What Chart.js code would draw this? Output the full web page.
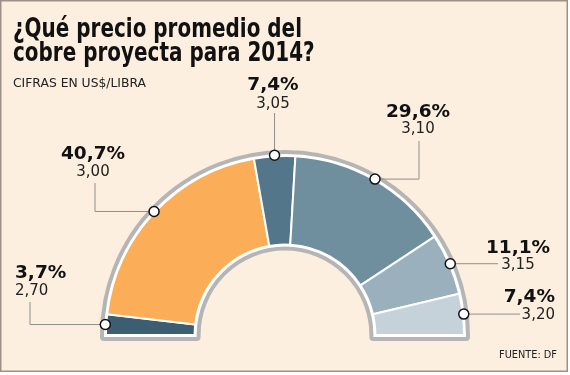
<!DOCTYPE html>
<html lang="es">

<head>
    <meta charset="UTF-8">
    <title>Precio del cobre 2014</title>
    <style>
        html, body {
            margin: 0;
            padding: 0;
            background: #ffffff;
            overflow: hidden;
        }
    </style>
    <script src="https://cdn.jsdelivr.net/npm/chart.js@4/dist/chart.umd.min.js"></script>
</head>

<body>
    <canvas id="myChart" width="570" height="375"></canvas>
    <script>
        // data
        const prices = ["2,70", "3,00", "3,05", "3,10", "3,15", "3,20"];
        const shares = [3.7, 40.7, 7.4, 29.6, 11.1, 7.4];
        const sliceColors = ["#3c5e70", "#fbae57", "#54768a", "#6f8e9e", "#9bb0bd", "#c5d2da"];

        const titleLines = ["¿Qué precio promedio del", "cobre proyecta para 2014?"];
        const subtitle = "CIFRAS EN US$/LIBRA";
        const source = "FUENTE: DF";

        // where each callout sits (text anchor + elbow of the leader line)
        const calloutLayout = [
            { x: 15, align: "left", pctY: 278, valY: 295, elbowX: 30, endY: 302 },
            { x: 93, align: "center", pctY: 159, valY: 176, elbowX: 95, endY: 183 },
            { x: 273, align: "center", pctY: 90, valY: 108, elbowX: null, endY: 113 },
            { x: 418, align: "center", pctY: 117, valY: 133, elbowX: 419, endY: 141 },
            { x: 518, align: "center", pctY: 253, valY: 269, elbowX: 498, endY: null },
            { x: 555, align: "right", pctY: 302, valY: 319, elbowX: 520, endY: null }
        ];

        const bgColor = "#fcefdf";
        const ringGray = "#b5b5b5";

        function fmtPct(v) {
            return v.toFixed(1).replace(".", ",") + "%";
        }

        // squeeze text horizontally to a given width (the original uses a condensed face)
        function fitText(ctx, text, x, y, width, scale) {
            const w = ctx.measureText(text).width;
            const s = scale || width / w;
            ctx.save();
            ctx.translate(x, y);
            ctx.scale(s, 1);
            ctx.fillText(text, 0, 0);
            ctx.restore();
            return s;
        }

        const frame = {
            id: "frame",
            beforeDraw(chart) {
                const ctx = chart.ctx;
                ctx.save();
                ctx.fillStyle = bgColor;
                ctx.fillRect(0, 0, 568, 372);
                ctx.strokeStyle = "#9c9189";
                ctx.lineWidth = 1.5;
                ctx.strokeRect(0.75, 0.75, 566.5, 370.5);

                ctx.fillStyle = "#111111";
                ctx.textAlign = "left";
                ctx.textBaseline = "alphabetic";
                ctx.font = "bold 27px 'DejaVu Sans'";
                const s = fitText(ctx, titleLines[0], 13, 37, 289);
                fitText(ctx, titleLines[1], 13, 61, 0, s);

                ctx.fillStyle = "#222222";
                ctx.font = "13px 'DejaVu Sans'";
                fitText(ctx, subtitle, 13, 87, 133);

                ctx.font = "11px 'DejaVu Sans'";
                const sw = ctx.measureText(source).width;
                fitText(ctx, source, 557 - 58, 358, 58);
                ctx.restore();
            }
        };

        // gray outline around the half ring
        const ringOutline = {
            id: "ringOutline",
            beforeDatasetsDraw(chart) {
                const arc = chart.getDatasetMeta(0).data[0];
                if (!arc) return;
                const { x, y, outerRadius, innerRadius } = arc.getProps(["x", "y", "outerRadius", "innerRadius"], true);
                const R = outerRadius + 2;
                const r = innerRadius - 2;
                const ctx = chart.ctx;
                ctx.save();
                ctx.beginPath();
                ctx.moveTo(x - R, y + 2);
                ctx.lineTo(x - R, y);
                ctx.arc(x, y, R, Math.PI, 2 * Math.PI);
                ctx.lineTo(x + R, y + 2);
                ctx.lineTo(x + r, y + 2);
                ctx.lineTo(x + r, y);
                ctx.arc(x, y, r, 0, Math.PI, true);
                ctx.lineTo(x - r, y + 2);
                ctx.closePath();
                ctx.lineJoin = "round";
                ctx.strokeStyle = ringGray;
                ctx.lineWidth = 8;
                ctx.stroke();
                ctx.fillStyle = "#ffffff";
                ctx.fill();
                ctx.restore();
            }
        };

        // leader lines, dots and the two-line labels
        const callouts = {
            id: "callouts",
            afterDatasetsDraw(chart) {
                const ctx = chart.ctx;
                const meta = chart.getDatasetMeta(0);
                ctx.save();
                meta.data.forEach((arc, i) => {
                    const p = arc.getProps(["x", "y", "startAngle", "endAngle", "outerRadius"], true);
                    const mid = (p.startAngle + p.endAngle) / 2;
                    const px = p.x + Math.cos(mid) * (p.outerRadius + 1);
                    const py = p.y + Math.sin(mid) * (p.outerRadius + 1);
                    const lay = calloutLayout[i];

                    ctx.beginPath();
                    ctx.moveTo(px, py);
                    const ex = lay.elbowX !== null ? lay.elbowX : px;
                    ctx.lineTo(ex, py);
                    if (lay.endY !== null) ctx.lineTo(ex, lay.endY);
                    ctx.strokeStyle = "#8f8f8f";
                    ctx.lineWidth = 1;
                    ctx.stroke();

                    ctx.beginPath();
                    ctx.arc(px, py, 5, 0, 2 * Math.PI);
                    ctx.fillStyle = "#ffffff";
                    ctx.fill();
                    ctx.strokeStyle = "#111111";
                    ctx.lineWidth = 1.5;
                    ctx.stroke();

                    ctx.textAlign = lay.align;
                    ctx.textBaseline = "alphabetic";
                    ctx.fillStyle = "#111111";
                    ctx.font = "bold 18.5px 'DejaVu Sans'";
                    ctx.fillText(fmtPct(shares[i]), lay.x, lay.pctY);
                    ctx.fillStyle = "#222222";
                    ctx.font = "15px 'DejaVu Sans'";
                    ctx.fillText(prices[i], lay.x, lay.valY);
                });
                ctx.restore();
            }
        };

        const ctx = document.getElementById("myChart").getContext("2d");
        const myChart = new Chart(ctx, {
            type: "doughnut",
            data: {
                labels: prices,
                datasets: [{
                    data: shares,
                    backgroundColor: sliceColors,
                    borderColor: "#ffffff",
                    borderWidth: 2,
                    clip: false
                }]
            },
            options: {
                responsive: false,
                devicePixelRatio: 1,
                animation: false,
                events: [],
                rotation: -90,
                circumference: 180,
                cutout: "50.5%",
                layout: {
                    padding: { top: 155, bottom: 39, left: 104, right: 104 }
                },
                plugins: {
                    legend: { display: false },
                    title: { display: false },
                    tooltip: { enabled: false }
                }
            },
            plugins: [frame, ringOutline, callouts]
        });
    </script>
</body>

</html>
